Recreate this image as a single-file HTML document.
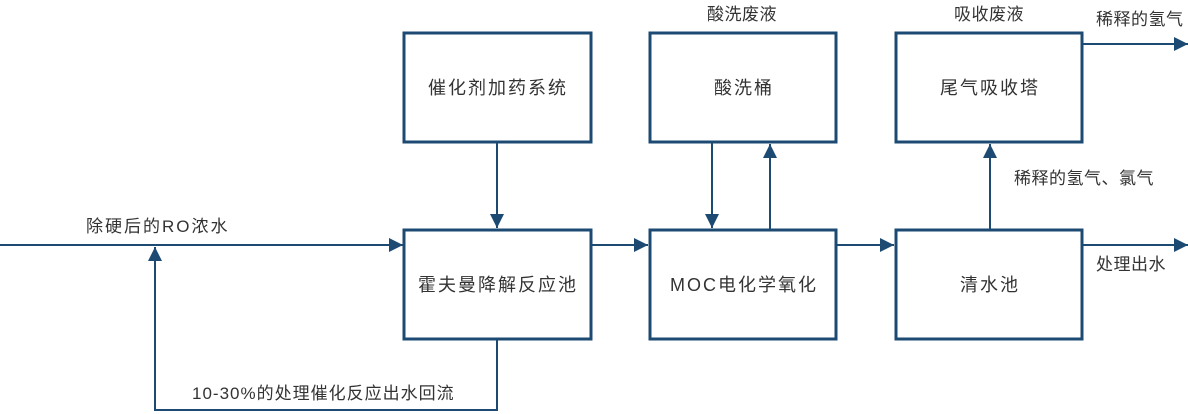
<!DOCTYPE html>
<html><head><meta charset="utf-8"><style>
html,body{margin:0;padding:0;background:#fff;}
svg{display:block;}
text{font-family:"Liberation Sans","Noto Sans CJK SC",sans-serif;font-size:17px;fill:#333;letter-spacing:0.5px;}
.b{font-size:18px;letter-spacing:2px;}
</style></head><body>
<svg width="1188" height="414" viewBox="0 0 1188 414" xmlns="http://www.w3.org/2000/svg">
<defs>
<marker id="b" markerWidth="14" markerHeight="14" refX="14" refY="7" orient="auto" markerUnits="userSpaceOnUse"><path d="M0,0L14,7L0,14z" fill="#1c4a73"/></marker></defs>
<g fill="none" stroke="#1c4a73" stroke-width="3">
<rect x="404" y="33" width="187" height="109"/>
<rect x="404" y="230" width="187" height="109"/>
<rect x="650" y="33" width="186" height="109"/>
<rect x="650" y="230" width="186" height="109"/>
<rect x="896" y="33" width="186" height="109"/>
<rect x="896" y="230" width="186" height="109"/>
</g>
<g stroke="#1c4a73" stroke-width="2" fill="none" marker-end="url(#b)">
<line x1="0" y1="245" x2="403" y2="245"/>
<line x1="497" y1="143" x2="497" y2="228"/>
<line x1="592" y1="245" x2="648" y2="245"/>
<line x1="837" y1="245" x2="894" y2="245"/>
<line x1="712" y1="143" x2="712" y2="228"/>
<line x1="770" y1="229" x2="770" y2="144"/>
<line x1="990" y1="229" x2="990" y2="144"/>
<line x1="1083" y1="44" x2="1188" y2="44"/>
<line x1="1083" y1="245" x2="1188" y2="245"/>
<polyline points="497,340 497,410 155,410 155,247"/>
</g>
<g text-anchor="middle">
<text class="b" x="498" y="94">催化剂加药系统</text>
<text class="b" x="498" y="291">霍夫曼降解反应池</text>
<text class="b" x="744" y="94">酸洗桶</text>
<text class="b" x="744" y="291">MOC电化学氧化</text>
<text class="b" x="990" y="94">尾气吸收塔</text>
<text class="b" x="990" y="291">清水池</text>
<text x="742" y="20">酸洗废液</text>
<text x="989" y="20">吸收废液</text>
</g>
<text x="1096" y="25">稀释的氢气</text>
<text x="1014" y="184">稀释的氢气、氯气</text>
<text x="1096" y="270">处理出水</text>
<text x="86" y="232" style="letter-spacing:2px">除硬后的RO浓水</text>
<text x="192" y="399" style="letter-spacing:1px">10-30%的处理催化反应出水回流</text>
</svg>
</body></html>
